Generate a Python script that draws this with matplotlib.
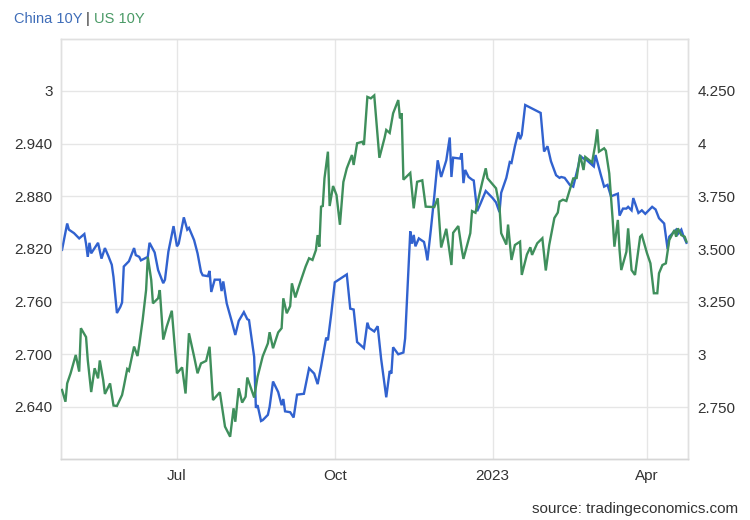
import matplotlib
matplotlib.use("Agg")
import matplotlib.pyplot as plt
import pandas as pd

plt.rcParams['font.family'] = ['Liberation Sans', 'DejaVu Sans']

# ---------------- data ----------------
china_dates = [
    "2022-04-25", "2022-04-28", "2022-04-29", "2022-05-02", "2022-05-05", "2022-05-08", "2022-05-09", "2022-05-10", "2022-05-11", "2022-05-12",
    "2022-05-14", "2022-05-16", "2022-05-18", "2022-05-20", "2022-05-22", "2022-05-24", "2022-05-25", "2022-05-27", "2022-05-29", "2022-05-30",
    "2022-05-31", "2022-06-01", "2022-06-03", "2022-06-06", "2022-06-07", "2022-06-09", "2022-06-10", "2022-06-14", "2022-06-15", "2022-06-18",
    "2022-06-20", "2022-06-23", "2022-06-24", "2022-06-26", "2022-06-29", "2022-07-01", "2022-07-02", "2022-07-05", "2022-07-07", "2022-07-08",
    "2022-07-11", "2022-07-13", "2022-07-15", "2022-07-16", "2022-07-19", "2022-07-20", "2022-07-21", "2022-07-23", "2022-07-26", "2022-07-27",
    "2022-07-28", "2022-07-30", "2022-08-02", "2022-08-04", "2022-08-06", "2022-08-09", "2022-08-11", "2022-08-12", "2022-08-15", "2022-08-16",
    "2022-08-17", "2022-08-19", "2022-08-20", "2022-08-23", "2022-08-24", "2022-08-26", "2022-08-29", "2022-08-31", "2022-09-01", "2022-09-02",
    "2022-09-05", "2022-09-07", "2022-09-09", "2022-09-13", "2022-09-16", "2022-09-19", "2022-09-21", "2022-09-23", "2022-09-26", "2022-09-27",
    "2022-09-29", "2022-10-01", "2022-10-08", "2022-10-10", "2022-10-12", "2022-10-14", "2022-10-18", "2022-10-20", "2022-10-21", "2022-10-24",
    "2022-10-26", "2022-10-28", "2022-10-31", "2022-11-02", "2022-11-03", "2022-11-04", "2022-11-07", "2022-11-10", "2022-11-11", "2022-11-14",
    "2022-11-15", "2022-11-16", "2022-11-17", "2022-11-19", "2022-11-22", "2022-11-23", "2022-11-24", "2022-11-26", "2022-11-28", "2022-11-30",
    "2022-12-02", "2022-12-05", "2022-12-07", "2022-12-08", "2022-12-09", "2022-12-13", "2022-12-14", "2022-12-15", "2022-12-16", "2022-12-18",
    "2022-12-20", "2022-12-21", "2022-12-23", "2022-12-25", "2022-12-28", "2022-12-30", "2023-01-01", "2023-01-03", "2023-01-05", "2023-01-06",
    "2023-01-09", "2023-01-11", "2023-01-12", "2023-01-14", "2023-01-16", "2023-01-17", "2023-01-18", "2023-01-20", "2023-01-29", "2023-01-31",
    "2023-02-02", "2023-02-04", "2023-02-07", "2023-02-09", "2023-02-10", "2023-02-12", "2023-02-15", "2023-02-17", "2023-02-20", "2023-02-21",
    "2023-02-23", "2023-02-25", "2023-03-01", "2023-03-02", "2023-03-05", "2023-03-07", "2023-03-09", "2023-03-11", "2023-03-15", "2023-03-16",
    "2023-03-18", "2023-03-20", "2023-03-21", "2023-03-23", "2023-03-24", "2023-03-27", "2023-03-29", "2023-03-31", "2023-04-04", "2023-04-06",
    "2023-04-08", "2023-04-11", "2023-04-13", "2023-04-14", "2023-04-18", "2023-04-19", "2023-04-21", "2023-04-22", "2023-04-24",
]
china_10y = [
    2.819, 2.849, 2.842, 2.838, 2.832, 2.837, 2.826, 2.811, 2.827, 2.815,
    2.821, 2.827, 2.809, 2.821, 2.812, 2.802, 2.788, 2.747, 2.754, 2.759,
    2.800, 2.802, 2.806, 2.821, 2.813, 2.811, 2.807, 2.811, 2.827, 2.816,
    2.796, 2.781, 2.785, 2.817, 2.846, 2.823, 2.826, 2.856, 2.842, 2.844,
    2.830, 2.815, 2.794, 2.790, 2.789, 2.795, 2.771, 2.785, 2.785, 2.772,
    2.783, 2.758, 2.737, 2.722, 2.738, 2.748, 2.740, 2.739, 2.697, 2.639,
    2.642, 2.624, 2.625, 2.631, 2.640, 2.669, 2.657, 2.642, 2.649, 2.635,
    2.634, 2.628, 2.654, 2.655, 2.684, 2.678, 2.666, 2.686, 2.719, 2.716,
    2.747, 2.782, 2.791, 2.752, 2.751, 2.714, 2.707, 2.736, 2.730, 2.726,
    2.732, 2.695, 2.651, 2.681, 2.678, 2.708, 2.700, 2.702, 2.718, 2.840,
    2.826, 2.836, 2.823, 2.832, 2.828, 2.819, 2.807, 2.842, 2.880, 2.921,
    2.902, 2.921, 2.947, 2.902, 2.924, 2.923, 2.929, 2.895, 2.910, 2.902,
    2.899, 2.898, 2.863, 2.872, 2.886, 2.882, 2.878, 2.873, 2.862, 2.884,
    2.901, 2.919, 2.918, 2.937, 2.953, 2.945, 2.950, 2.984, 2.975, 2.931,
    2.937, 2.920, 2.904, 2.901, 2.902, 2.901, 2.893, 2.891, 2.915, 2.926,
    2.923, 2.921, 2.914, 2.927, 2.905, 2.891, 2.893, 2.880, 2.883, 2.858,
    2.866, 2.866, 2.868, 2.864, 2.878, 2.861, 2.864, 2.860, 2.868, 2.865,
    2.855, 2.849, 2.820, 2.834, 2.842, 2.837, 2.842, 2.836, 2.827,
]

us_dates = [
    "2022-04-25", "2022-04-27", "2022-04-28", "2022-04-30", "2022-05-03", "2022-05-05", "2022-05-06", "2022-05-09", "2022-05-10", "2022-05-12",
    "2022-05-14", "2022-05-16", "2022-05-17", "2022-05-19", "2022-05-20", "2022-05-23", "2022-05-25", "2022-05-27", "2022-05-30", "2022-05-31",
    "2022-06-02", "2022-06-03", "2022-06-06", "2022-06-08", "2022-06-09", "2022-06-11", "2022-06-13", "2022-06-14", "2022-06-16", "2022-06-17",
    "2022-06-20", "2022-06-21", "2022-06-23", "2022-06-25", "2022-06-28", "2022-07-01", "2022-07-04", "2022-07-06", "2022-07-08", "2022-07-11",
    "2022-07-13", "2022-07-15", "2022-07-18", "2022-07-20", "2022-07-22", "2022-07-26", "2022-07-29", "2022-08-01", "2022-08-03", "2022-08-04",
    "2022-08-06", "2022-08-08", "2022-08-10", "2022-08-11", "2022-08-15", "2022-08-17", "2022-08-20", "2022-08-23", "2022-08-24", "2022-08-26",
    "2022-08-29", "2022-08-31", "2022-09-01", "2022-09-03", "2022-09-05", "2022-09-06", "2022-09-08", "2022-09-10", "2022-09-14", "2022-09-16",
    "2022-09-18", "2022-09-20", "2022-09-21", "2022-09-22", "2022-09-23", "2022-09-24", "2022-09-25", "2022-09-27", "2022-09-28", "2022-09-30",
    "2022-10-02", "2022-10-04", "2022-10-06", "2022-10-08", "2022-10-11", "2022-10-12", "2022-10-14", "2022-10-17", "2022-10-18", "2022-10-20",
    "2022-10-22", "2022-10-24", "2022-10-27", "2022-10-30", "2022-10-31", "2022-11-02", "2022-11-04", "2022-11-07", "2022-11-08", "2022-11-09",
    "2022-11-10", "2022-11-14", "2022-11-16", "2022-11-18", "2022-11-21", "2022-11-23", "2022-11-28", "2022-11-30", "2022-12-02", "2022-12-05",
    "2022-12-08", "2022-12-09", "2022-12-12", "2022-12-14", "2022-12-15", "2022-12-19", "2022-12-20", "2022-12-22", "2022-12-24", "2022-12-26",
    "2022-12-28", "2022-12-29", "2023-01-03", "2023-01-05", "2023-01-06", "2023-01-09", "2023-01-10", "2023-01-12", "2023-01-14", "2023-01-17",
    "2023-01-18", "2023-01-21", "2023-01-23", "2023-01-24", "2023-01-27", "2023-01-30", "2023-02-01", "2023-02-03", "2023-02-06", "2023-02-08",
    "2023-02-09", "2023-02-11", "2023-02-13", "2023-02-17", "2023-02-19", "2023-02-21", "2023-02-23", "2023-02-24", "2023-02-28", "2023-03-02",
    "2023-03-03", "2023-03-04", "2023-03-07", "2023-03-08", "2023-03-10", "2023-03-12", "2023-03-13", "2023-03-15", "2023-03-16", "2023-03-17",
    "2023-03-20", "2023-03-21", "2023-03-23", "2023-03-25", "2023-03-28", "2023-03-29", "2023-04-01", "2023-04-03", "2023-04-05", "2023-04-07",
    "2023-04-08", "2023-04-10", "2023-04-12", "2023-04-14", "2023-04-17", "2023-04-18", "2023-04-19", "2023-04-21", "2023-04-23", "2023-04-24",
]
us_10y = [
    2.831, 2.775, 2.862, 2.910, 2.997, 2.918, 3.124, 3.082, 2.973, 2.821,
    2.934, 2.886, 2.971, 2.878, 2.812, 2.862, 2.757, 2.755, 2.807, 2.846,
    2.930, 2.922, 3.037, 2.992, 3.044, 3.163, 3.305, 3.462, 3.353, 3.242,
    3.266, 3.305, 3.070, 3.131, 3.207, 2.910, 2.938, 2.814, 3.100, 2.989,
    2.910, 2.957, 2.969, 3.036, 2.783, 2.820, 2.657, 2.609, 2.744, 2.680,
    2.839, 2.771, 2.799, 2.890, 2.795, 2.894, 2.991, 3.052, 3.105, 3.029,
    3.104, 3.124, 3.266, 3.195, 3.229, 3.337, 3.270, 3.321, 3.417, 3.456,
    3.448, 3.495, 3.566, 3.511, 3.701, 3.704, 3.836, 3.962, 3.704, 3.799,
    3.756, 3.615, 3.818, 3.883, 3.946, 3.899, 4.002, 4.009, 3.994, 4.222,
    4.215, 4.229, 3.933, 4.027, 4.065, 4.051, 4.144, 4.207, 4.120, 4.144,
    3.829, 3.861, 3.693, 3.819, 3.826, 3.701, 3.699, 3.741, 3.507, 3.596,
    3.424, 3.577, 3.609, 3.499, 3.453, 3.575, 3.680, 3.672, 3.748, 3.818,
    3.883, 3.836, 3.788, 3.701, 3.575, 3.521, 3.616, 3.448, 3.519, 3.535,
    3.377, 3.474, 3.508, 3.472, 3.527, 3.551, 3.398, 3.519, 3.647, 3.673,
    3.725, 3.734, 3.728, 3.835, 3.837, 3.946, 3.875, 3.937, 3.911, 4.003,
    4.068, 3.962, 3.978, 3.967, 3.859, 3.638, 3.511, 3.638, 3.495, 3.400,
    3.487, 3.598, 3.400, 3.377, 3.558, 3.566, 3.480, 3.432, 3.290, 3.290,
    3.385, 3.424, 3.432, 3.543, 3.590, 3.558, 3.598, 3.566, 3.558, 3.535,
]

left_ticks = [2.64, 2.70, 2.76, 2.82, 2.88, 2.94, 3.00]
left_labels = ["2.640", "2.700", "2.760", "2.820", "2.880", "2.940", "3"]
right_ticks = [2.75, 3.00, 3.25, 3.50, 3.75, 4.00, 4.25]
right_labels = ["2.750", "3", "3.250", "3.500", "3.750", "4", "4.250"]
x_tick_dates = ["2022-07-01", "2022-10-01", "2023-01-01", "2023-04-01"]
x_tick_labels = ["Jul", "Oct", "2023", "Apr"]

# ---------------- style ----------------
BLUE = "#3162cf"
GREEN = "#3f8f5c"
GRID = "#e6e6e6"
TXT = "#333333"

W, H = 750, 520
fig = plt.figure(figsize=(W / 100, H / 100), dpi=100)
ax = fig.add_axes([61 / W, 1 - 459 / H, (688 - 61) / W, (459 - 39) / H])
ax2 = ax.twinx()

cd = pd.to_datetime(china_dates)
ud = pd.to_datetime(us_dates)

ax.plot(cd, china_10y, color=BLUE, lw=1.7, solid_joinstyle="miter", zorder=3)
ax2.plot(ud, us_10y, color=GREEN, lw=1.7, solid_joinstyle="miter", zorder=3)

base = pd.Timestamp("2022-07-01")
ax.set_xlim(base - pd.Timedelta(days=67.6), base + pd.Timedelta(days=297.9))
ax.set_ylim(2.5807, 3.0592)
ax2.set_ylim(2.5032, 4.4968)

ax.set_yticks(left_ticks)
ax.set_yticklabels(left_labels)
ax2.set_yticks(right_ticks)
ax2.set_yticklabels(right_labels)
ax.set_xticks(pd.to_datetime(x_tick_dates))
ax.set_xticklabels(x_tick_labels)

ax.grid(True, color=GRID, lw=1, zorder=0)
ax.set_axisbelow(True)

ax.tick_params(axis="y", length=0, pad=6, labelsize=11, labelcolor=TXT)
ax.tick_params(axis="x", length=0, pad=7, labelsize=11, labelcolor=TXT)
ax2.tick_params(axis="y", length=0, pad=7, labelsize=11, labelcolor=TXT)

for a in (ax, ax2):
    for s in a.spines.values():
        s.set_color("#e0e0e0")
        s.set_linewidth(1)
ax.spines["bottom"].set_color("#d6d6d6")
ax2.spines["bottom"].set_color("#d6d6d6")

# ---------------- header / footer ----------------
renderer = fig.canvas.get_renderer()
x0 = 14 / W
y0 = 1 - 19 / H
parts = [("China 10Y", "#3f6db8"), (" | ", "#222222"), ("US 10Y", "#4a9a66")]
for txt, col in parts:
    t = fig.text(x0, y0, txt, color=col, fontsize=10.5, va="center", ha="left")
    bb = t.get_window_extent(renderer=renderer)
    x0 += bb.width / W

fig.text(738 / W, 1 - 509 / H, "source: tradingeconomics.com", ha="right", va="center",
         fontsize=11, color=TXT)

fig.savefig("out.png", dpi=100)
